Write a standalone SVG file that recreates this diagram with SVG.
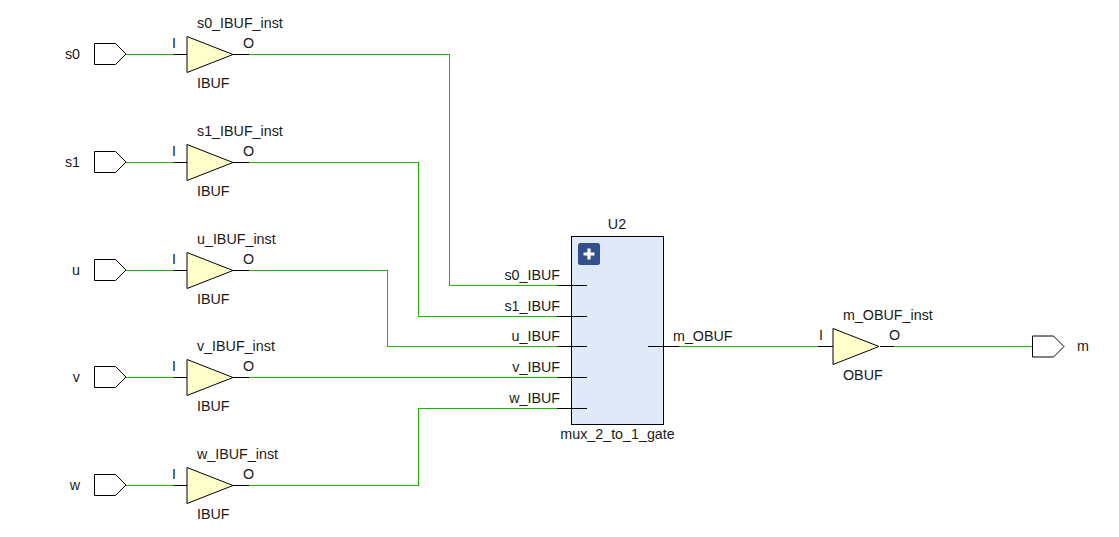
<svg xmlns="http://www.w3.org/2000/svg" width="1119" height="537" viewBox="0 0 1119 537">
<style>
text{font-family:"Liberation Sans",Arial,sans-serif;font-size:14.3px;fill:#1a1a1a}
.m{text-anchor:middle}.e{text-anchor:end}
.w{fill:none;stroke:#1fb500;stroke-width:1;shape-rendering:crispEdges}
.k{fill:none;stroke:#000;stroke-width:1;shape-rendering:crispEdges}
.p{fill:#fff;stroke:#000;stroke-width:1}
.b{fill:#ffffcc;stroke:#000;stroke-width:1}
</style>
<defs>
<path id="port" class="p" d="M0.5,-10.5H21.5L32,0L21.5,10.5H0.5Z"/>
<path id="buf" class="b" d="M0,-18V18L46,0Z"/>
</defs>
<rect width="1119" height="537" fill="#fff"/>
<g id="connectors">
<path class="w" d="M126,54.5H173M249,54.5H449.5V285.5H557"/>
<path class="w" d="M126,162.5H173M249,162.5H418.5V316.5H557"/>
<path class="w" d="M126,270.5H173M249,270.5H387.5V346.5H557"/>
<path class="w" d="M126,377.5H173M249,377.5H557"/>
<path class="w" d="M126,485.5H173M249,485.5H418.5V408.5H557"/>
<path class="w" d="M679,346.5H818M894,346.5H1032"/>
<path class="k" d="M173,54.5H187M233,54.5H249M173,162.5H187M233,162.5H249M173,270.5H187M233,270.5H249M173,377.5H187M233,377.5H249M173,485.5H187M233,485.5H249M818,346.5H833M880,346.5H894"/>
</g>
<g id="s0"><use href="#port" x="94" y="54"/><text class="e" x="80" y="59">s0</text></g>
<g id="s1"><use href="#port" x="94" y="162"/><text class="e" x="80" y="167">s1</text></g>
<g id="u"><use href="#port" x="94" y="270"/><text class="e" x="80" y="275">u</text></g>
<g id="v"><use href="#port" x="94" y="377"/><text class="e" x="80" y="382">v</text></g>
<g id="w"><use href="#port" x="94" y="485"/><text class="e" x="80" y="490">w</text></g>
<g id="s0_IBUF_inst"><use href="#buf" x="187" y="54.5"/><text x="197" y="28">s0_IBUF_inst</text><text x="172" y="48">I</text><text x="243" y="48">O</text><text x="197" y="88">IBUF</text></g>
<g id="s1_IBUF_inst"><use href="#buf" x="187" y="162.5"/><text x="197" y="136">s1_IBUF_inst</text><text x="172" y="156">I</text><text x="243" y="156">O</text><text x="197" y="196">IBUF</text></g>
<g id="u_IBUF_inst"><use href="#buf" x="187" y="270.5"/><text x="197" y="244">u_IBUF_inst</text><text x="172" y="264">I</text><text x="243" y="264">O</text><text x="197" y="304">IBUF</text></g>
<g id="v_IBUF_inst"><use href="#buf" x="187" y="377.5"/><text x="197" y="351">v_IBUF_inst</text><text x="172" y="371">I</text><text x="243" y="371">O</text><text x="197" y="411">IBUF</text></g>
<g id="w_IBUF_inst"><use href="#buf" x="187" y="485.5"/><text x="197" y="459">w_IBUF_inst</text><text x="172" y="479">I</text><text x="243" y="479">O</text><text x="197" y="519">IBUF</text></g>
<g id="U2">
<text class="m" x="617" y="229">U2</text>
<rect x="571.5" y="236.5" width="92" height="188" fill="#dfe9f7" stroke="#000"/>
<rect x="578" y="243" width="22" height="22" rx="2.5" fill="#34508c"/>
<path d="M589,248.5V259.5M583.5,254H594.500" stroke="#fff" stroke-width="3.200" fill="none"/>
<path class="k" d="M557,285.5H587M557,316.5H587M557,346.5H587M557,377.500H587M557,408.5H587M648,346.5H679"/>
<text class="e" x="560" y="280">s0_IBUF</text>
<text class="e" x="560" y="311">s1_IBUF</text>
<text class="e" x="560" y="341">u_IBUF</text>
<text class="e" x="560" y="372">v_IBUF</text>
<text class="e" x="560" y="403">w_IBUF</text>
<text x="673" y="341">m_OBUF</text>
<text class="m" x="617.500" y="439">mux_2_to_1_gate</text>
</g>
<g id="m_OBUF_inst"><use href="#buf" x="833" y="346.5"/><text x="843" y="320">m_OBUF_inst</text><text x="819" y="340">I</text><text x="889" y="340">O</text><text x="843" y="380">OBUF</text></g>
<g id="m"><use href="#port" x="1032" y="346.500"/><text x="1077" y="351">m</text></g>
</svg>
